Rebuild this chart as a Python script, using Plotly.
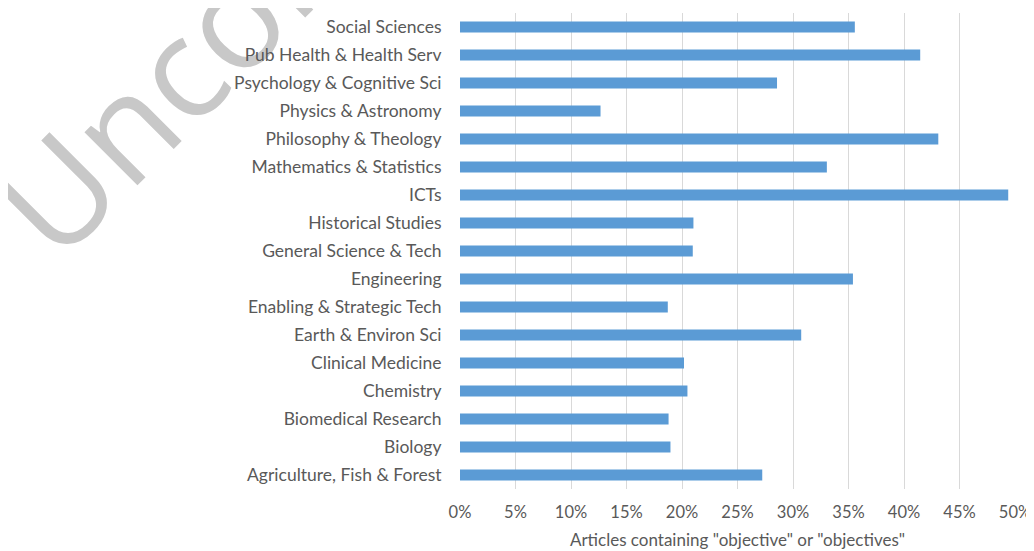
import plotly.graph_objects as go

categories = [
    "Social Sciences", "Pub Health & Health Serv", "Psychology & Cognitive Sci",
    "Physics & Astronomy", "Philosophy & Theology", "Mathematics & Statistics",
    "ICTs", "Historical Studies", "General Science & Tech", "Engineering",
    "Enabling & Strategic Tech", "Earth & Environ Sci", "Clinical Medicine",
    "Chemistry", "Biomedical Research", "Biology", "Agriculture, Fish & Forest",
]
values = [
    0.3557, 0.4146, 0.2856, 0.1266, 0.4309, 0.3305, 0.4939, 0.2103, 0.2097,
    0.3540, 0.1872, 0.3074, 0.2018, 0.2049, 0.1879, 0.1896, 0.2723,
]
x_ticks = [0, 0.05, 0.10, 0.15, 0.20, 0.25, 0.30, 0.35, 0.40, 0.45, 0.50]
x_title = 'Articles containing "objective" or "objectives"'
watermark = "Unconfirmed"

# page has an 8px body margin, so the figure is sized to the visible area
W, H = 1026, 543
ML, MR, MT, MB = 452, 19, 5, 62
PW, PH = W - ML - MR, H - MT - MB


def px_to_paper(px, py):
    return (px - ML) / PW, 1 - (py - MT) / PH


FONT = "Lato, Calibri, sans-serif"
TXT = "#595959"

fig = go.Figure(
    go.Bar(
        x=values, y=categories, orientation="h",
        marker=dict(color="#5B9BD5", line=dict(width=0)),
        hoverinfo="x+y",
    )
)

wx0, wy0 = px_to_paper(85, 294)
wx1, wy1 = px_to_paper(385, -6)
fig.add_shape(
    type="line", xref="paper", yref="paper",
    x0=wx0, y0=wy0, x1=wx1, y1=wy1, layer="below",
    line=dict(color="rgba(0,0,0,0)", width=0),
    label=dict(text=watermark, textposition="start", yanchor="bottom", padding=0,
               font=dict(family="Open Sans, sans-serif", size=140, color="#C8C8C8")),
)

fig.update_layout(
    width=W, height=H,
    margin=dict(l=ML, r=MR, t=MT, b=MB, autoexpand=False),
    paper_bgcolor="white", plot_bgcolor="rgba(0,0,0,0)",
    bargap=0.6, showlegend=False,
    font=dict(family=FONT, size=17.5, color=TXT),
)
fig.update_xaxes(
    range=[0, 0.5], tickvals=x_ticks, tickformat=".0%",
    showgrid=True, gridcolor="#D9D9D9", gridwidth=1,
    zeroline=False, showline=False,
    ticks="outside", ticklen=8, tickcolor="rgba(0,0,0,0)",
    tickfont=dict(family=FONT, size=16.5, color=TXT),
    title=dict(text=x_title, font=dict(family=FONT, size=17, color=TXT), standoff=13),
    automargin=False,
)
fig.update_yaxes(
    autorange="reversed", showgrid=False, zeroline=False, showline=False,
    ticks="outside", ticklen=14, tickcolor="rgba(0,0,0,0)",
    tickfont=dict(family=FONT, size=17.5, color=TXT),
    automargin=False,
)

fig.write_html("out.html")
